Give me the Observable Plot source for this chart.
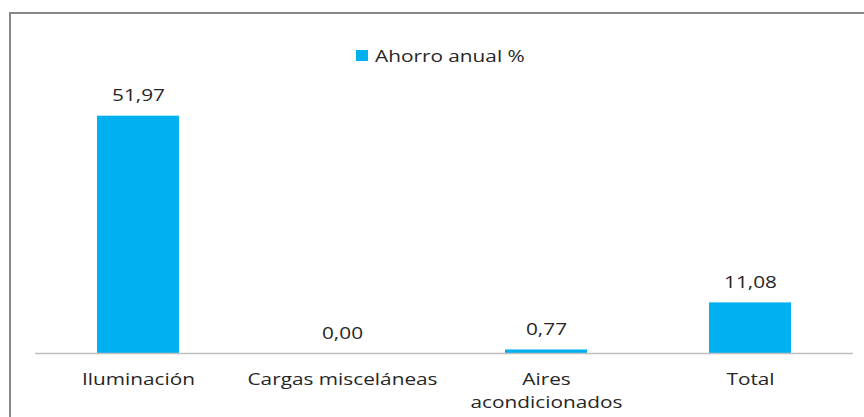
<!DOCTYPE html>
<html>
<head>
<meta charset="utf-8">
<script src="https://cdn.jsdelivr.net/npm/d3@7"></script>
<script src="https://cdn.jsdelivr.net/npm/@observablehq/plot@0.6"></script>
<style>
  body { margin: 0; background: #fff; }
  #wrap { position: relative; width: 864px; height: 417px; overflow: hidden; font-family: "Open Sans", sans-serif; }
  #frame { position: absolute; left: 9px; top: 12px; width: 900px; height: 500px; border: 2px solid #888; box-sizing: border-box; }
  #legend { position: absolute; left: 356px; top: 44px; height: 22px; display: flex; align-items: center; font-size: 16.5px; color: #262626; }
  #legend .sw { width: 12px; height: 11px; background: #00b0f0; margin-right: 7px; }
  #legend #legtext { display: inline-block; transform: scaleX(1.26); transform-origin: left center; }
  #chart { position: absolute; left: 0; top: 0; }
</style>
</head>
<body>
<div id="wrap">
  <div id="frame"></div>
  <div id="chart"></div>
  <div id="legend"><span class="sw"></span><span id="legtext"></span></div>
</div>
<script>
const categories = ["Iluminación", "Cargas misceláneas", "Aires acondicionados", "Total"];
const tickLabels = ["Iluminación", "Cargas misceláneas", "Aires\nacondicionados", "Total"];
const values = [51.97, 0.00, 0.77, 11.08];
const seriesName = "Ahorro anual %";

const data = categories.map((c, i) => ({category: c, value: values[i]}));
const fmt = d => d.toFixed(2).replace(".", ",");
const labelOf = new Map(categories.map((c, i) => [c, tickLabels[i]]));

document.getElementById("legtext").textContent = seriesName;

const chart = Plot.plot({
  width: 864,
  height: 417,
  marginLeft: 35,
  marginRight: 11,
  marginTop: 79,
  marginBottom: 64,
  style: {fontFamily: "Open Sans, sans-serif", fontSize: "16.5px", color: "#262626", background: "transparent"},
  x: {domain: categories, paddingInner: 0.6, paddingOuter: 0.3, label: null},
  y: {domain: [0, 60], axis: null},
  marks: [
    Plot.barY(data, {x: "category", y: "value", fill: "#00b0f0"}),
    Plot.ruleY([0], {stroke: "#bfbfbf", strokeWidth: 1.5}),
    Plot.text(data, {x: "category", y: "value", text: d => fmt(d.value), lineAnchor: "bottom", dy: -15, fill: "#262626", fontSize: 16.5}),
    Plot.axisX({tickSize: 0, tickPadding: 0, dy: 16, lineAnchor: "top", lineHeight: 1.35, fontSize: 16.5, fill: "#262626", tickFormat: c => labelOf.get(c)})
  ]
});
document.getElementById("chart").appendChild(chart);

// horizontally stretch glyphs to mimic the reference's wide lettering
const STRETCH = 1.26;
chart.querySelectorAll("text").forEach(t => {
  const parts = t.querySelectorAll("tspan");
  const items = parts.length ? Array.from(parts) : [t];
  items.forEach(el => {
    const w = el.getComputedTextLength();
    if (w > 0) {
      el.setAttribute("textLength", (w * STRETCH).toFixed(2));
      el.setAttribute("lengthAdjust", "spacingAndGlyphs");
    }
  });
});
</script>
</body>
</html>
